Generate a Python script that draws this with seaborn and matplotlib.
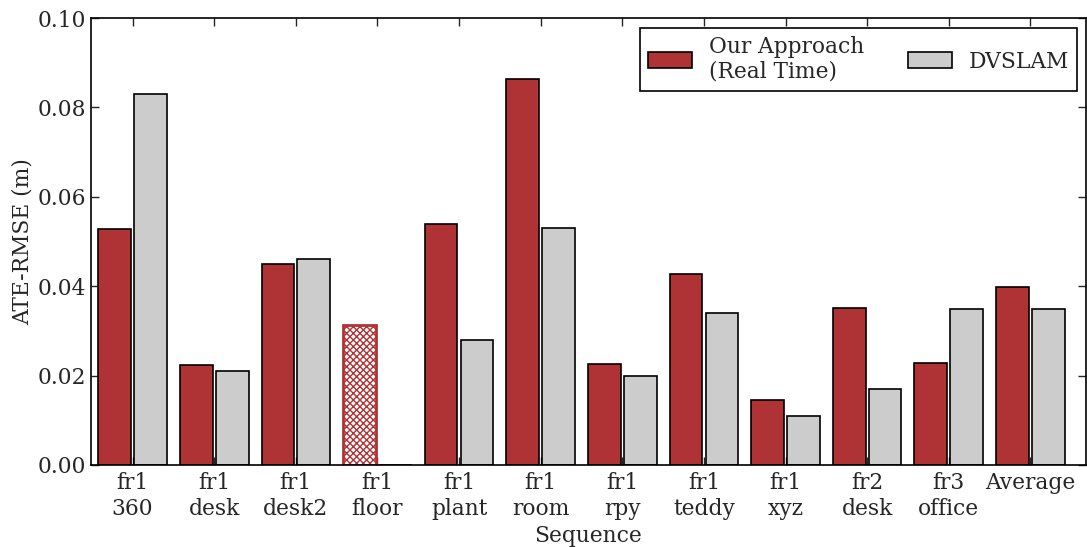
import matplotlib
matplotlib.use("Agg")
import matplotlib.pyplot as plt
import seaborn as sns
import pandas as pd

sequences = ["fr1\n360", "fr1\ndesk", "fr1\ndesk2", "fr1\nfloor", "fr1\nplant", "fr1\nroom",
             "fr1\nrpy", "fr1\nteddy", "fr1\nxyz", "fr2\ndesk", "fr3\noffice", "Average"]
ours = [0.0528, 0.0224, 0.0450, 0.0313, 0.0539, 0.0864, 0.0226, 0.0427, 0.0145, 0.0351, 0.0228, 0.0398]
dvslam = [0.0830, 0.0210, 0.0461, 0.0, 0.0280, 0.0530, 0.0200, 0.0340, 0.0110, 0.0170, 0.0350, 0.0348]
series = ["Our Approach\n(Real Time)", "DVSLAM"]

df = pd.DataFrame({
    "Sequence": sequences * 2,
    "value": ours + dvslam,
    "method": [series[0]] * len(sequences) + [series[1]] * len(sequences),
})

sns.set_style("ticks")
plt.rcParams["font.family"] = ["DejaVu Serif"]
plt.rcParams["hatch.linewidth"] = 1.0

RED = "#af3235"
GRAY = "#cccccc"
FS = 15.7

fig = plt.figure(figsize=(10.87, 5.47), dpi=100)
ax = fig.add_axes([0.0837, 0.150, 0.9153, 0.817])

sns.barplot(data=df, x="Sequence", y="value", hue="method", order=sequences,
            hue_order=series, palette=[RED, GRAY], width=0.88, gap=0.09,
            edgecolor="black", linewidth=1.2, saturation=1, ax=ax)

# floor bar: no real-time result, hatched
n = len(sequences)
floor_idx = sequences.index("fr1\nfloor")
fb = ax.patches[floor_idx]
fb.set_facecolor("white")
fb.set_edgecolor(RED)
fb.set_hatch("xxxxx")
fb.set_linewidth(2)

ax.set_ylim(0, 0.10)
ax.set_xlim(-0.51, n - 1 + 0.68)
ax.set_yticks([0.0, 0.02, 0.04, 0.06, 0.08, 0.10])
ax.set_yticklabels(["0.00", "0.02", "0.04", "0.06", "0.08", "0.10"])
ax.tick_params(axis="both", which="both", direction="in", top=True, right=True,
               labelsize=FS, length=6, width=1)
ax.tick_params(axis="x", pad=5)
for lbl in ax.get_xticklabels():
    lbl.set_linespacing(1.22)
for sp in ax.spines.values():
    sp.set_visible(True)
    sp.set_color("black")
    sp.set_linewidth(1.2)

ax.set_xlabel("Sequence", fontsize=FS, labelpad=4)
ax.set_ylabel("ATE-RMSE (m)", fontsize=FS, labelpad=3)

leg = ax.legend(ncol=2, loc="upper right", bbox_to_anchor=(0.991, 0.978), borderaxespad=0,
                fontsize=FS, frameon=True, fancybox=False, edgecolor="black", framealpha=1,
                handlelength=2.0, handleheight=0.75, handletextpad=0.8, columnspacing=2.0,
                borderpad=0.35)
leg.get_frame().set_linewidth(1.2)

fig.savefig("out.png", dpi=100)
